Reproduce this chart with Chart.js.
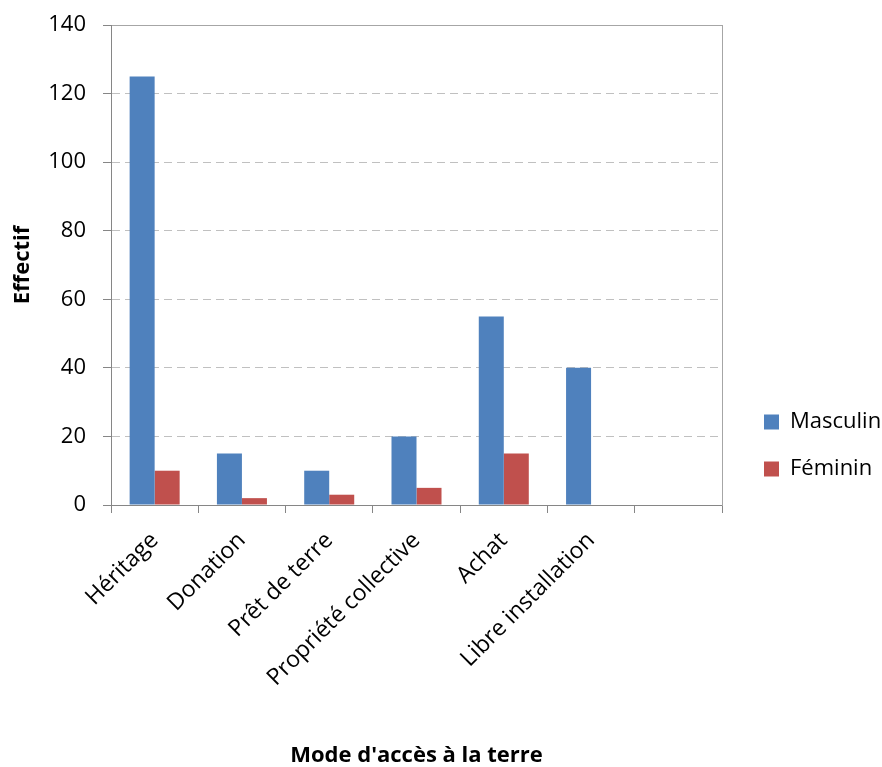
<!DOCTYPE html>
<html>
<head>
<meta charset="utf-8">
<script src="https://cdn.jsdelivr.net/npm/chart.js@4.4.1/dist/chart.umd.min.js"></script>
<style>
  html, body { margin: 0; padding: 0; background: #fff; }
</style>
</head>
<body>
<canvas id="chart" width="882" height="767"></canvas>
<script>
// Mode d'accès à la terre, par sexe
const categories = ['Héritage', 'Donation', 'Prêt de terre', 'Propriété collective', 'Achat', 'Libre installation', ''];
const masculin = [125, 15, 10, 20, 55, 40, null];
const feminin = [10, 2, 3, 5, 15, null, null];
const yTicks = { min: 0, max: 140, step: 20 };

Chart.defaults.font.family = "'Open Sans', sans-serif";
Chart.defaults.color = '#000';

const axisGray = '#868686';

new Chart(document.getElementById('chart'), {
    type: 'bar',
    data: {
        labels: categories,
        datasets: [
            {
                label: 'Masculin',
                data: masculin,
                backgroundColor: '#4f81bd',
                categoryPercentage: 0.573,
                barPercentage: 1,
            },
            {
                label: 'Féminin',
                data: feminin,
                backgroundColor: '#c0504d',
                categoryPercentage: 0.573,
                barPercentage: 1,
            }
        ]
    },
    options: {
        responsive: false,
        animation: false,
        layout: { padding: { top: 25, left: 0, right: 0, bottom: 0 } },
        plugins: {
            legend: {
                position: 'right',
                align: 'end',
                fullSize: false,
                maxWidth: 143,
                labels: { boxWidth: 15, boxHeight: 15, padding: 25, font: { size: 22 } }
            },
            tooltip: { enabled: false }
        },
        scales: {
            x: {
                grid: { drawOnChartArea: false, offset: true, color: axisGray, tickLength: 8 },
                border: { color: axisGray },
                ticks: { font: { size: 23 }, minRotation: 45, maxRotation: 45, padding: 14, autoSkip: false },
                title: {
                    display: true,
                    text: "Mode d'accès à la terre",
                    font: { size: 22, weight: 'bold', lineHeight: 1 },
                    padding: 0
                },
                afterFit: s => { s.height = 262; }
            },
            y: {
                min: yTicks.min,
                max: yTicks.max,
                ticks: { stepSize: yTicks.step, font: { size: 22 }, padding: 17 },
                grid: {
                    color: c => {
                        if (!c.tick) return '#c0c0c0';
                        if (c.tick.value === yTicks.max) return '#a6a6a6';
                        if (c.tick.value === yTicks.min) return axisGray;
                        return '#c0c0c0';
                    },
                    tickColor: axisGray,
                    tickLength: 8
                },
                border: {
                    color: axisGray,
                    dash: c => (c.tick && c.tick.value !== yTicks.max && c.tick.value !== yTicks.min) ? [8, 5] : []
                },
                title: {
                    display: true,
                    text: 'Effectif',
                    font: { size: 22, weight: 'bold', lineHeight: 1 },
                    padding: { top: 12, bottom: 0 }
                },
                afterFit: s => {
                    s.width = 111;
                    // the tick padding would otherwise push the plot top down
                    s.paddingTop = 0;
                    s.paddingBottom = 0;
                }
            },
            // right edge of the plot area
            y2: {
                position: 'right',
                grid: { display: false },
                ticks: { display: false },
                border: { color: '#a6a6a6' },
                afterFit: s => { s.width = 17; }
            }
        }
    }
});
</script>
</body>
</html>
